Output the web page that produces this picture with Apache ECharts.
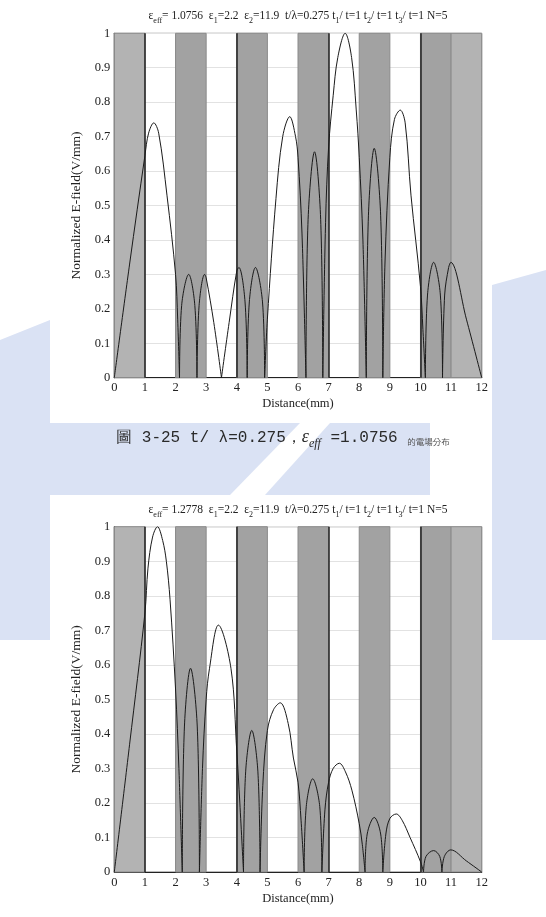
<!DOCTYPE html>
<html><head><meta charset="utf-8">
<script src="https://cdn.jsdelivr.net/npm/echarts@6/dist/echarts.min.js"></script>
<style>html,body{margin:0;padding:0;background:#fff}#c{width:546px;height:917px}</style>
</head><body><div id="c"></div>
<script>
// layer structure (mm)
const layerEdges = [0,1,2,3,4,5,6,7,8,9,10,11,12];
const layerKinds = ['end','air','high','air','high','air','high','air','high','air','high','end'];
const boldEdges = [1,4,7,10];

// top chart: eps_eff = 1.0756, curve read as arches between zeros
const topSegments = [
  [[0,0],[0.5,0.33],[1.0,0.645],[1.12,0.71],[1.29,0.74],[1.45,0.71],[1.72,0.53],[2.0,0.30],[2.07,0.17],[2.13,0]],
  [[2.13,0],[2.2,0.21],[2.43,0.30],[2.63,0.21],[2.70,0]],
  [[2.70,0],[2.77,0.21],[2.95,0.30],[3.0,0.29],[3.25,0.16],[3.50,0]],
  [[3.50,0],[3.75,0.16],[4.0,0.31],[4.07,0.32],[4.27,0.22],[4.34,0]],
  [[4.34,0],[4.41,0.22],[4.61,0.32],[4.84,0.22],[4.91,0]],
  [[4.91,0],[5.0,0.17],[5.28,0.52],[5.5,0.70],[5.73,0.758],[5.92,0.70],[6.0,0.64],[6.13,0.42],[6.26,0]],
  [[6.26,0],[6.33,0.46],[6.54,0.656],[6.74,0.46],[6.81,0]],
  [[6.81,0],[6.9,0.45],[7.0,0.67],[7.15,0.82],[7.3,0.93],[7.54,1.0],[7.75,0.93],[7.9,0.78],[8.0,0.64],[8.12,0.40],[8.23,0]],
  [[8.23,0],[8.30,0.47],[8.49,0.666],[8.70,0.47],[8.77,0]],
  [[8.77,0],[8.84,0.33],[9.0,0.64],[9.15,0.75],[9.34,0.777],[9.5,0.74],[9.69,0.53],[10.0,0.265],[10.08,0.14],[10.16,0]],
  [[10.16,0],[10.23,0.24],[10.43,0.335],[10.65,0.24],[10.72,0]],
  [[10.72,0],[10.79,0.24],[10.92,0.32],[10.99,0.335],[11.5,0.17],[12,0]]
];

// bottom chart: eps_eff = 1.2778
const bottomSegments = [
  [[0,0],[0.5,0.37],[1.0,0.75],[1.1,0.88],[1.25,0.97],[1.41,1.0],[1.58,0.96],[1.7,0.9],[1.82,0.79],[2.0,0.53],[2.11,0.30],[2.22,0]],
  [[2.22,0],[2.29,0.42],[2.49,0.59],[2.71,0.42],[2.78,0]],
  [[2.78,0],[2.88,0.30],[3.0,0.50],[3.11,0.59],[3.40,0.715],[3.81,0.59],[4.0,0.35],[4.1,0.20],[4.22,0]],
  [[4.22,0],[4.29,0.29],[4.49,0.41],[4.69,0.29],[4.76,0]],
  [[4.76,0],[4.85,0.25],[5.0,0.41],[5.2,0.47],[5.42,0.49],[5.68,0.43],[5.85,0.33],[6.0,0.26],[6.1,0.15],[6.2,0]],
  [[6.2,0],[6.27,0.19],[6.48,0.27],[6.71,0.19],[6.78,0]],
  [[6.78,0],[6.88,0.18],[7.0,0.26],[7.15,0.30],[7.35,0.315],[7.55,0.29],[7.76,0.237],[8.0,0.14],[8.1,0.08],[8.19,0]],
  [[8.19,0],[8.26,0.11],[8.49,0.158],[8.70,0.11],[8.77,0]],
  [[8.77,0],[8.87,0.11],[9.0,0.155],[9.21,0.168],[9.4,0.15],[9.66,0.10],[10.0,0.03],[10.1,0]],
  [[10.1,0],[10.18,0.045],[10.43,0.062],[10.63,0.045],[10.70,0]],
  [[10.70,0],[10.78,0.045],[10.99,0.064],[11.5,0.032],[12,0]]
];

const topTitleParts = ['1.0756','2.2','11.9','0.275','1','1','1','5'];
const bottomTitleParts = ['1.2778','2.2','11.9','0.275','1','1','1','5'];
const captionText = ['圖 3-25 t/ λ=0.275，', 'ε', 'eff', ' =1.0756 ', '的電場分布'];

const kindColor = {end:'#b3b3b3', air:'#ffffff', high:'#a2a2a2'};
const serif = 'Liberation Serif';
const wmColor = '#dae2f4';

function bandArea(){
  const d = [];
  for (let i=0;i<layerKinds.length;i++){
    if (layerKinds[i]==='air') continue;
    d.push([{xAxis:layerEdges[i], yAxis:0, itemStyle:{color:kindColor[layerKinds[i]], borderColor:'#8a8a8a', borderWidth:1}},{xAxis:layerEdges[i+1], yAxis:1}]);
  }
  return d;
}
function titleRich(p){
  return '{n|ε}{s|eff}{n|= '+p[0]+'  ε}{s|1}{n|='+p[1]+'  ε}{s|2}{n|='+p[2]+'  t/λ='+p[3]+' t}{s|1}{n|/ t='+p[4]+' t}{s|2}{n|/ t='+p[5]+' t}{s|3}{n|/ t='+p[6]+' N='+p[7]+'}';
}
const richT = {
  n:{fontFamily:serif,fontSize:11.5,fill:'#222',lineHeight:14,verticalAlign:'bottom'},
  s:{fontFamily:serif,fontSize:8,fill:'#222',lineHeight:10,verticalAlign:'bottom',padding:[0,0,-3,0]}
};

const grids = [
  {left:114.3, width:367.4, top:33.3, height:344.4},
  {left:114.3, width:367.4, top:526.7, height:345.3}
];
const xAxes = grids.map((g,i)=>({
  type:'value', gridIndex:i, min:0, max:12, interval:1,
  name:'Distance(mm)', nameLocation:'middle', nameGap:20,
  nameTextStyle:{fontFamily:serif,fontSize:12.5,color:'#222'},
  axisLine:{show:true,lineStyle:{color:'#222',width:1.2}},
  axisTick:{show:false}, splitLine:{show:false},
  axisLabel:{fontFamily:serif,fontSize:12.5,color:'#222',margin:4}
}));
const yAxes = grids.map((g,i)=>({
  type:'value', gridIndex:i, min:0, max:1, interval:0.1,
  name:'Normalized E-field(V/mm)', nameLocation:'middle', nameGap:20, nameRotate:90,
  nameTextStyle:{fontFamily:serif,fontSize:13.5,color:'#222'},
  axisLine:{show:true,lineStyle:{color:'#222',width:1.2}},
  axisTick:{show:false},
  splitLine:{show:true,lineStyle:{color:'#e2e2e2',width:1.2}},
  axisLabel:{fontFamily:serif,fontSize:12.5,color:'#222',margin:4}
}));

const series = [];
[topSegments,bottomSegments].forEach((segs,gi)=>{
  series.push({
    type:'line', xAxisIndex:gi, yAxisIndex:gi, data:[], z:1, silent:true,
    markArea:{silent:true, data:bandArea()},
    markLine:{silent:true, symbol:'none', label:{show:false},
      lineStyle:{color:'#2a2a2a', width:1.6, type:'solid'},
      data: boldEdges.map(x=>({xAxis:x}))}
  });
  segs.forEach(seg=>{
    series.push({type:'line', xAxisIndex:gi, yAxisIndex:gi, data:seg, smooth:0.35,
      showSymbol:false, silent:true, z:5,
      lineStyle:{color:'#1a1a1a', width:1}});
  });
});

const chart = echarts.init(document.getElementById('c'), null, {renderer:'canvas'});
chart.setOption({
  animation:false,
  backgroundColor:'#ffffff',
  grid: grids.map(g=>Object.assign({containLabel:false, show:true, borderColor:'#777', borderWidth:1, backgroundColor:'#ffffff'}, g)),
  xAxis:xAxes, yAxis:yAxes, series:series,
  graphic:[
    // faint watermark shapes behind the page
    {type:'polygon', z:-10, silent:true, shape:{points:[[0,340],[50,320],[50,640],[0,640]]}, style:{fill:wmColor}},
    {type:'polygon', z:-10, silent:true, shape:{points:[[492,285],[546,270],[546,640],[492,640]]}, style:{fill:wmColor}},
    {type:'polygon', z:-10, silent:true, shape:{points:[[50,423],[300,423],[230,495],[50,495]]}, style:{fill:wmColor}},
    {type:'polygon', z:-10, silent:true, shape:{points:[[330,423],[430,423],[430,495],[265,495]]}, style:{fill:wmColor}},
    {type:'text', x:298, y:15, style:{text:titleRich(topTitleParts), rich:richT, align:'center', verticalAlign:'middle'}},
    {type:'text', x:298, y:509, style:{text:titleRich(bottomTitleParts), rich:richT, align:'center', verticalAlign:'middle'}},
    {type:'text', x:283, y:437, style:{
      text:'{m|'+captionText[0]+'}{e|'+captionText[1]+'}{es|'+captionText[2]+'}{m|'+captionText[3]+'}{c|'+captionText[4]+'}',
      align:'center', verticalAlign:'middle',
      rich:{
        m:{fontFamily:'Liberation Mono',fontSize:16,fill:'#2a2a2a',verticalAlign:'bottom',lineHeight:18},
        e:{fontFamily:serif,fontStyle:'italic',fontSize:18,fill:'#2a2a2a',verticalAlign:'bottom',lineHeight:18},
        es:{fontFamily:serif,fontStyle:'italic',fontSize:12,fill:'#2a2a2a',verticalAlign:'bottom',lineHeight:18,padding:[0,0,-4,0]},
        c:{fontFamily:'Noto Sans CJK TC',fontSize:8.5,fill:'#555',verticalAlign:'bottom',lineHeight:16}
      }}}
  ]
});
</script>
</body></html>
